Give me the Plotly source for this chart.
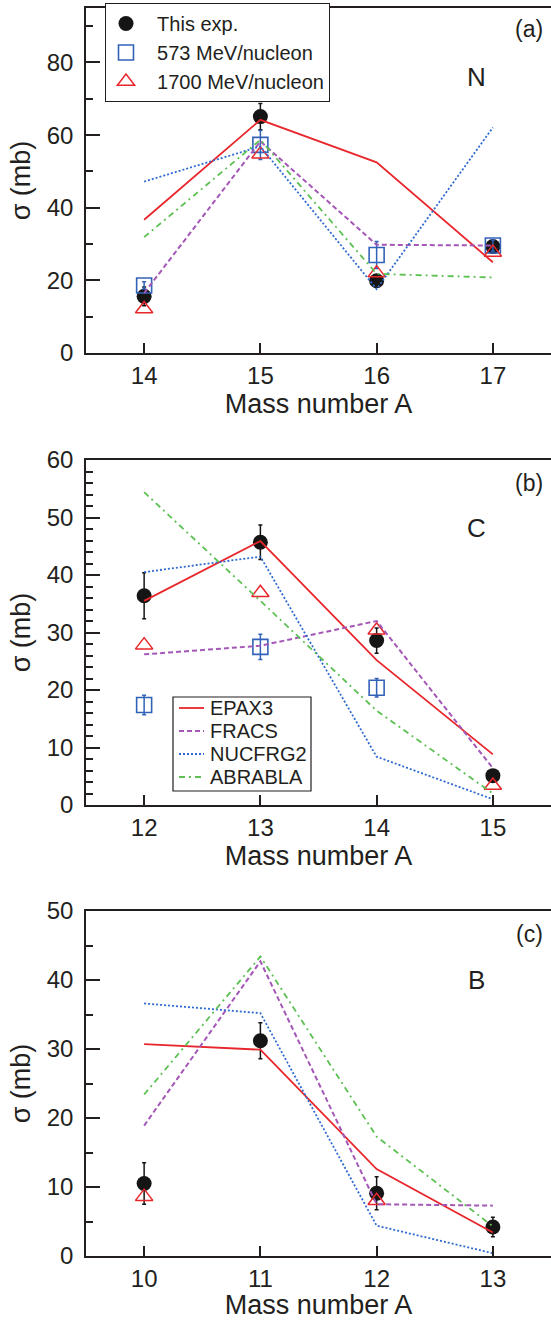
import plotly.graph_objects as go

# ---------------- data ----------------
# Panel (a) : N isotopes
A_N = [14, 15, 16, 17]
exp_N = [15.6, 65.1, 19.9, 29.3]
exp_N_err = [2.6, 3.6, 1.0, 1.5]
e573_N = [18.6, 57.3, 27.0, 29.6]
e573_N_err = [1.0, 4.0, 3.7, 1.5]
e1700_N = [12.1, 54.7, 22.0, 27.7]
epax_N = [36.7, 64.2, 52.5, 25.0]
fracs_N = [16.5, 58.3, 29.8, 29.6]
nuc_N = [47.2, 56.9, 17.6, 62.1]
abra_N = [31.9, 58.7, 21.8, 20.8]

# Panel (b) : C isotopes
A_C = [12, 13, 14, 15]
exp_C = [36.4, 45.7, 28.6, 5.1]
exp_C_err = [4.0, 3.0, 2.2, 1.0]
e573_C = [17.4, 27.5, 20.4, None]
e573_C_err = [1.7, 2.2, 1.6, 0]
e1700_C = [27.8, 36.9, 30.4, 3.4]
epax_C = [35.5, 45.9, 25.2, 8.8]
fracs_C = [26.2, 27.7, 32.0, 6.4]
nuc_C = [40.5, 43.2, 8.4, 1.0]
abra_C = [54.4, 35.5, 16.4, 2.0]

# Panel (c) : B isotopes
A_B = [10, 11, 12, 13]
exp_B = [10.5, 31.2, 9.1, 4.2]
exp_B_err = [3.0, 2.6, 2.4, 1.4]
e1700_B = [8.6, None, 8.0, None]
epax_B = [30.7, 29.9, 12.6, 3.4]
fracs_B = [18.9, 42.7, 7.5, 7.3]
nuc_B = [36.6, 35.2, 4.4, 0.4]
abra_B = [23.4, 43.4, 17.3, 4.3]

panel_tags = ["(a)", "(b)", "(c)"]
elements = ["N", "C", "B"]
model_names = ["EPAX3", "FRACS", "NUCFRG2", "ABRABLA"]
exp_names = ["This exp.", "573 MeV/nucleon", "1700 MeV/nucleon"]

# ---------------- styles ----------------
RED = "#e8262b"
PURPLE = "#a457b6"
BLUE_DOT = "#2f6bd0"
GREEN = "#5cc052"
SQ_BLUE = "#3262b8"
AX = "#231f20"
FONT = "Liberation Sans, Arial, sans-serif"
NB = "\u00a0\u00a0"

model_styles = [
    dict(color=RED, width=1.8, dash="solid"),
    dict(color=PURPLE, width=2.0, dash="5px,3px"),
    dict(color=BLUE_DOT, width=1.8, dash="2px,2px"),
    dict(color=GREEN, width=1.8, dash="6px,4px,2px,4px"),
]

fig = go.Figure()

panels = [
    dict(A=A_N, exp=exp_N, err=exp_N_err, s573=e573_N, s573e=e573_N_err, s1700=e1700_N,
         models=[epax_N, fracs_N, nuc_N, abra_N], xr=[13.5, 17.5], yr=[0, 95],
         dtick=20, mdtick=10),
    dict(A=A_C, exp=exp_C, err=exp_C_err, s573=e573_C, s573e=e573_C_err, s1700=e1700_C,
         models=[epax_C, fracs_C, nuc_C, abra_C], xr=[11.5, 15.5], yr=[0, 60],
         dtick=10, mdtick=2),
    dict(A=A_B, exp=exp_B, err=exp_B_err, s573=None, s573e=None, s1700=e1700_B,
         models=[epax_B, fracs_B, nuc_B, abra_B], xr=[9.5, 13.5], yr=[0, 50],
         dtick=10, mdtick=5),
]

# pixel geometry -> paper fractions
W, H = 551, 1320
ML, MT, MB = 86, 8, 64
PW = W - ML
PH = H - MT - MB


def py(pix):
    return (H - MB - pix) / PH


def px(pix):
    return (pix - ML) / PW


ydomains = [[py(353), py(8)], [py(805), py(460)], [py(1256), py(911)]]

for i, p in enumerate(panels):
    sfx = "" if i == 0 else str(i + 1)
    xa, ya = "x" + sfx, "y" + sfx
    # experimental data
    fig.add_trace(go.Scatter(
        x=p["A"], y=p["exp"], mode="markers", name=NB + exp_names[0], xaxis=xa, yaxis=ya,
        marker=dict(symbol="circle", size=15, color="#151515", line=dict(width=0)),
        error_y=dict(type="data", array=p["err"], color="#151515", thickness=1.5, width=2),
        showlegend=(i == 0)))
    if p["s573"] is not None:
        fig.add_trace(go.Scatter(
            x=p["A"], y=p["s573"], mode="markers", name=NB + exp_names[1], xaxis=xa, yaxis=ya,
            marker=dict(symbol="square-open", size=15, color=SQ_BLUE, line=dict(width=1.6)),
            error_y=dict(type="data", array=p["s573e"], color=SQ_BLUE, thickness=1.5, width=2),
            showlegend=(i == 0)))
    fig.add_trace(go.Scatter(
        x=p["A"], y=p["s1700"], mode="markers", name=NB + exp_names[2], xaxis=xa, yaxis=ya,
        marker=dict(symbol="triangle-up-open", size=15, color=RED, line=dict(width=1.5)),
        showlegend=(i == 0)))
    for name, vals, st in zip(model_names, p["models"], model_styles):
        fig.add_trace(go.Scatter(
            x=p["A"], y=vals, mode="lines", name=name, xaxis=xa, yaxis=ya,
            line=st, showlegend=False))

    axcommon = dict(showline=True, linecolor=AX, linewidth=1.5, ticks="inside",
                    tickcolor=AX, tickwidth=1.5, showgrid=False, zeroline=False,
                    tickfont=dict(size=24, color=AX, family=FONT))
    fig.update_layout(**{
        "xaxis" + sfx: dict(axcommon, domain=[0, 1], range=p["xr"], anchor=ya,
                            tickmode="array", tickvals=p["A"], ticklen=10, mirror=True,
                            ticklabelstandoff=0,
                            title=dict(text="Mass number A", standoff=2,
                                       font=dict(size=27, color=AX, family=FONT))),
        "yaxis" + sfx: dict(axcommon, domain=ydomains[i], range=p["yr"], anchor=xa,
                            dtick=p["dtick"], tick0=0, ticklen=14, ticklabelstandoff=6,
                            minor=dict(dtick=p["mdtick"], tick0=0, ticks="inside", ticklen=7,
                                       tickcolor=AX, tickwidth=1.5, showgrid=False),
                            title=dict(text="σ (mb)", standoff=8,
                                       font=dict(size=27, color=AX, family=FONT))),
    })
    fig.add_annotation(xref="paper", yref="paper", x=px(529), y=py([29, 483, 934][i]),
                       text=panel_tags[i], showarrow=False, xanchor="center", yanchor="middle",
                       font=dict(size=23, color=AX, family=FONT))
    fig.add_annotation(xref="paper", yref="paper", x=px(476), y=py([77, 528, 980][i]),
                       text=elements[i], showarrow=False, xanchor="center", yanchor="middle",
                       font=dict(size=26, color=AX, family=FONT))

# model legend (panel b) drawn as a key box
key_top, key_bot, key_left, key_right = 697, 791, 173, 311
key_rows = [708, 731, 754, 777]
fig.add_shape(type="rect", xref="paper", yref="paper",
              x0=px(key_left), x1=px(key_right), y0=py(key_bot), y1=py(key_top),
              line=dict(color=AX, width=1.2), fillcolor="white", layer="above")
for name, st, row in zip(model_names, model_styles, key_rows):
    fig.add_shape(type="line", xref="paper", yref="paper",
                  x0=px(179), x1=px(204), y0=py(row), y1=py(row),
                  line=st, layer="above")
    fig.add_annotation(xref="paper", yref="paper", x=px(208), y=py(row), text=name,
                       showarrow=False, xanchor="left", yanchor="middle",
                       font=dict(size=20, color=AX, family=FONT))

fig.update_layout(
    width=W, height=H,
    margin=dict(l=ML, r=0, t=MT, b=MB, autoexpand=False),
    plot_bgcolor="white", paper_bgcolor="white",
    font=dict(family=FONT, color=AX),
    legend=dict(x=px(105), y=py(3), xanchor="left", yanchor="top",
                bordercolor=AX, borderwidth=1, bgcolor="white",
                font=dict(size=20, color=AX, family=FONT), tracegroupgap=0),
)

fig.write_html("out.html")
